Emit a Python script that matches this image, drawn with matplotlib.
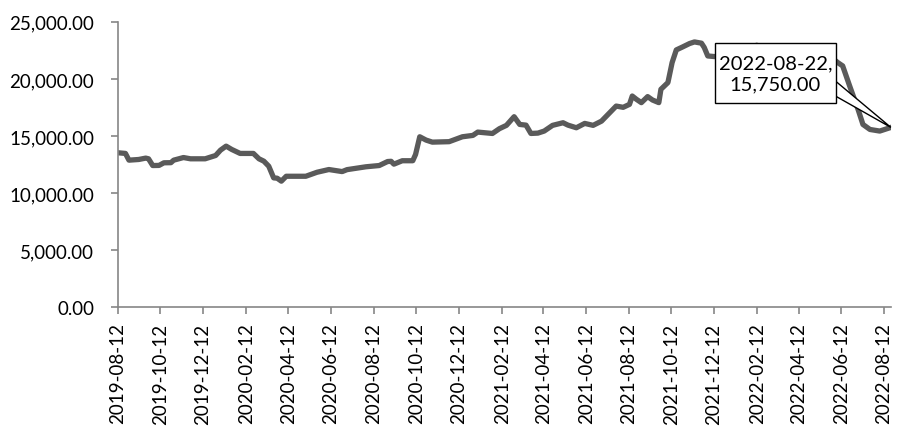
import matplotlib
matplotlib.use("Agg")
import matplotlib.pyplot as plt
import matplotlib.dates as mdates
from matplotlib.patches import Polygon, Rectangle
import pandas as pd

# values
dates = [
    "2019-08-12", "2019-08-23", "2019-08-28", "2019-09-11", "2019-09-21", "2019-09-25",
    "2019-10-01", "2019-10-10", "2019-10-17", "2019-10-27", "2019-10-31", "2019-11-14",
    "2019-11-24", "2019-12-15", "2019-12-30", "2020-01-06", "2020-01-14", "2020-01-22",
    "2020-02-03", "2020-02-22", "2020-03-01", "2020-03-08", "2020-03-15", "2020-03-22",
    "2020-03-27", "2020-04-02", "2020-04-09", "2020-05-07", "2020-05-23", "2020-06-09",
    "2020-06-28", "2020-07-05", "2020-08-01", "2020-08-20", "2020-09-01", "2020-09-06",
    "2020-09-10", "2020-09-22", "2020-10-07", "2020-10-11", "2020-10-17", "2020-10-26",
    "2020-11-04", "2020-11-28", "2020-12-17", "2021-01-01", "2021-01-08", "2021-01-29",
    "2021-02-08", "2021-02-18", "2021-03-01", "2021-03-09", "2021-03-18", "2021-03-25",
    "2021-04-04", "2021-04-13", "2021-04-25", "2021-05-10", "2021-05-17", "2021-05-29",
    "2021-06-10", "2021-06-22", "2021-07-04", "2021-07-11", "2021-07-25", "2021-08-04",
    "2021-08-13", "2021-08-17", "2021-08-23", "2021-08-30", "2021-09-08", "2021-09-15",
    "2021-09-24", "2021-09-27", "2021-10-07", "2021-10-13", "2021-10-19", "2021-10-28",
    "2021-11-07", "2021-11-14", "2021-11-24", "2021-11-28", "2021-12-03", "2021-12-12",
    "2022-01-03", "2022-01-25", "2022-02-11", "2022-03-01", "2022-03-30", "2022-04-28",
    "2022-06-04", "2022-06-07", "2022-06-14", "2022-06-24", "2022-07-06", "2022-07-13",
    "2022-07-23", "2022-08-06", "2022-08-22",
]
values = [
    13530, 13470, 12880, 12940, 13060, 13000,
    12410, 12420, 12650, 12660, 12880, 13110,
    13000, 13000, 13290, 13760, 14110, 13820,
    13470, 13470, 13000, 12790, 12350, 11330,
    11300, 11040, 11470, 11470, 11820, 12060,
    11880, 12050, 12300, 12410, 12760, 12780,
    12530, 12830, 12830, 13380, 14930, 14640,
    14460, 14500, 14930, 15050, 15340, 15220,
    15640, 15930, 16690, 16010, 15950, 15220,
    15250, 15430, 15930, 16160, 15950, 15720,
    16100, 15930, 16300, 16740, 17620, 17510,
    17770, 18500, 18210, 17920, 18450, 18150,
    17920, 19090, 19680, 21430, 22540, 22800,
    23100, 23240, 23130, 22750, 22010, 21960,
    21950, 22300, 22950, 22500, 22000, 21900,
    21580, 21430, 21140, 19380, 17330, 16010,
    15570, 15430, 15750,
]
tick_dates = [
    "2019-08-12", "2019-10-12", "2019-12-12", "2020-02-12", "2020-04-12", "2020-06-12",
    "2020-08-12", "2020-10-12", "2020-12-12", "2021-02-12", "2021-04-12", "2021-06-12",
    "2021-08-12", "2021-10-12", "2021-12-12", "2022-02-12", "2022-04-12", "2022-06-12",
    "2022-08-12",
]
y_ticks = [0, 5000, 10000, 15000, 20000, 25000]
label_text = "2022-08-22,\n15,750.00"

x = pd.to_datetime(dates)
ticks = pd.to_datetime(tick_dates)

fig = plt.figure(figsize=(8.99, 4.31), dpi=100)
ax = fig.add_axes([0.131, 0.285, 0.860, 0.662])

ax.plot(x, values, color="#5a5a5a", linewidth=3.8, solid_joinstyle="round")

ax.set_xlim(x[0], x[-1])
ax.set_ylim(0, 25000)
ax.set_yticks(y_ticks)
ax.set_yticklabels([f"{v:,.2f}" for v in y_ticks], fontsize=13.5, family="Lato")
ax.set_xticks(ticks)
ax.set_xticklabels(tick_dates, rotation=90, fontsize=13.5, family="Lato")

for side in ["top", "right"]:
    ax.spines[side].set_visible(False)
for side in ["left", "bottom"]:
    ax.spines[side].set_color("#868686")
    ax.spines[side].set_linewidth(1.2)
ax.tick_params(axis="both", color="#868686", length=5, width=1.2)
ax.tick_params(axis="y", pad=12)
ax.tick_params(axis="x", pad=6)

# callout for the last point
tip = (mdates.date2num(x[-1]), values[-1])
to_data = ax.transData.inverted().transform
base1 = to_data(ax.transAxes.transform((0.925, 0.800)))
base2 = to_data(ax.transAxes.transform((0.925, 0.745)))
wedge = Polygon([base1, tip, base2], closed=True, facecolor="white",
                edgecolor="black", linewidth=1.0, zorder=4, clip_on=False)
ax.add_patch(wedge)
box = Rectangle((0.772, 0.715), 0.157, 0.210, transform=ax.transAxes,
                facecolor="white", edgecolor="black", linewidth=1.0, zorder=5)
ax.add_patch(box)
ax.text(0.8505, 0.820, label_text, transform=ax.transAxes, ha="center", va="center",
        fontsize=14.5, family="Lato", linespacing=1.3, zorder=6)

fig.savefig("out.png", dpi=100)
